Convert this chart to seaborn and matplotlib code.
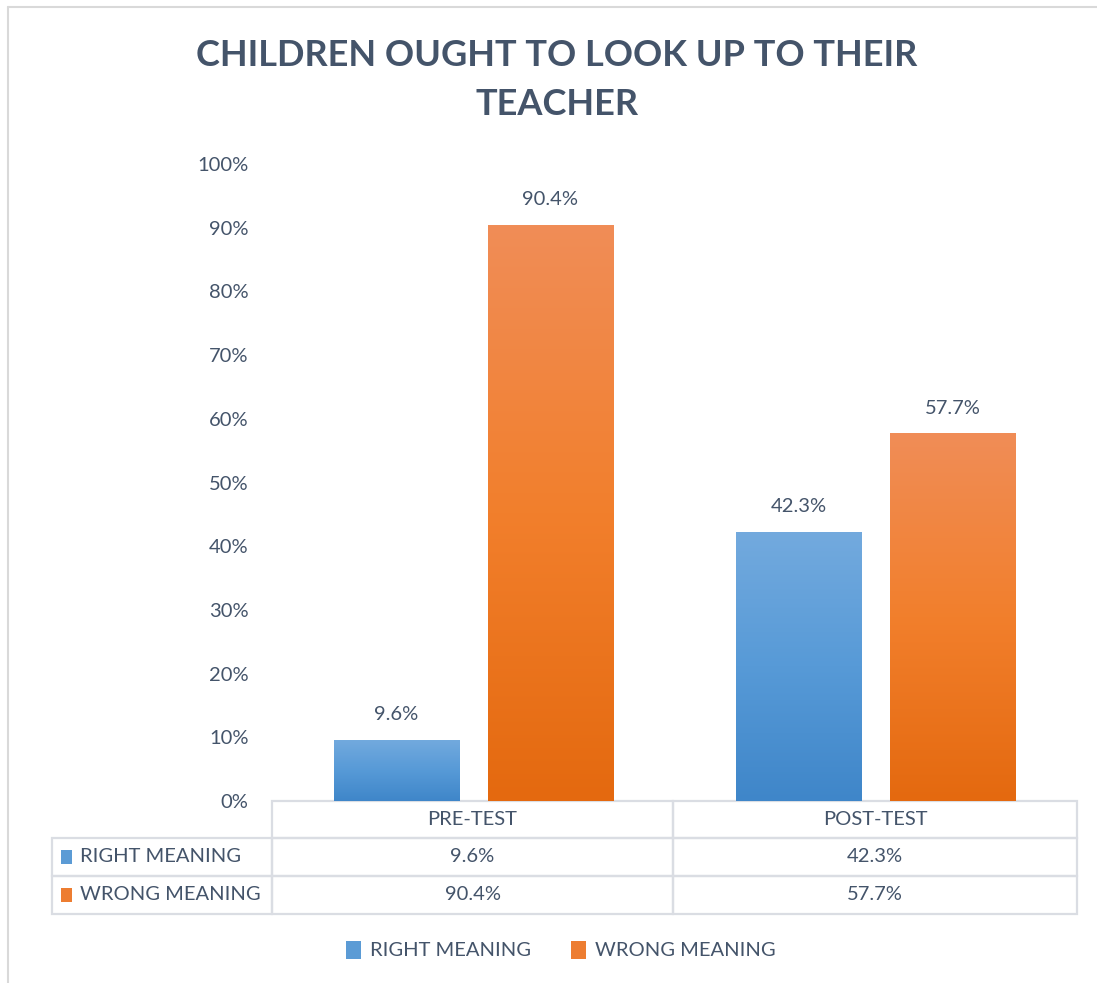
import numpy as np
import pandas as pd
import matplotlib
matplotlib.use("Agg")
import matplotlib.pyplot as plt
import seaborn as sns
from matplotlib.table import Table
from matplotlib.patches import Patch, Rectangle
from matplotlib.lines import Line2D
from matplotlib.colors import LinearSegmentedColormap, to_hex
from matplotlib.ticker import PercentFormatter

# ---- data -------------------------------------------------------------
title = "CHILDREN OUGHT TO LOOK UP TO THEIR\nTEACHER"
tests = ["PRE-TEST", "POST-TEST"]
meanings = ["RIGHT MEANING", "WRONG MEANING"]
right_meaning = [9.6, 42.3]
wrong_meaning = [90.4, 57.7]
y_ticks = [0, 10, 20, 30, 40, 50, 60, 70, 80, 90, 100]

# ---- style ------------------------------------------------------------
TEXT = "#44546A"
RULE = "#DADDE3"
FS = 14.5
palette = {"RIGHT MEANING": "#5B9BD5", "WRONG MEANING": "#ED7D31"}
# (bottom, middle, top) colours of the vertical gradient in each bar
gradients = {
    "RIGHT MEANING": ("#3F86C9", "#579AD7", "#73AADE"),
    "WRONG MEANING": ("#E4690F", "#F27F2C", "#F08D57"),
}

df = pd.DataFrame({
    "test": tests * 2,
    "meaning": [meanings[0]] * len(tests) + [meanings[1]] * len(tests),
    "value": right_meaning + wrong_meaning,
})

sns.set_theme(style="white")
plt.rcParams["font.family"] = ["Lato", "DejaVu Sans"]

W, H = 1097, 983
fig = plt.figure(figsize=(W / 100, H / 100), dpi=100)
ax = fig.add_axes([272 / W, 1 - 801 / H, 805 / W, 637 / H])

sns.barplot(data=df, x="test", y="value", hue="meaning",
            order=tests, hue_order=meanings, palette=palette,
            saturation=1, width=0.765, gap=0.188, legend=False, ax=ax,
            errorbar=None)

# gradient fill clipped to each bar
col_to_meaning = {to_hex(c): m for m, c in palette.items()}
grad = np.linspace(0, 1, 256).reshape(-1, 1)
for bar in list(ax.patches):
    meaning = col_to_meaning.get(to_hex(bar.get_facecolor()))
    if meaning is None:
        continue
    cmap = LinearSegmentedColormap.from_list(meaning, gradients[meaning])
    x0, y0 = bar.get_x(), bar.get_y()
    bw, bh = bar.get_width(), bar.get_height()
    im = ax.imshow(grad, cmap=cmap, extent=[x0, x0 + bw, y0, y0 + bh],
                   origin="lower", aspect="auto", zorder=bar.get_zorder(),
                   interpolation="bilinear")
    im.set_clip_path(bar)
    bar.set_facecolor("none")
    bar.set_edgecolor("none")

ax.set_xlim(-0.5, len(tests) - 0.5)
ax.set_ylim(0, 100)

# value labels above bars
for cont in ax.containers:
    ax.bar_label(cont, fmt="%.1f%%", padding=12, fontsize=FS, color=TEXT)

# axes cosmetics
sns.despine(ax=ax, left=True, bottom=True)
ax.set_yticks(y_ticks)
ax.yaxis.set_major_formatter(PercentFormatter(100, decimals=0))
ax.tick_params(axis="y", length=0, pad=17, labelsize=FS, labelcolor=TEXT)
ax.set_xticks([])
ax.set_xlabel("")
ax.set_ylabel("")
ax.grid(False)

# ---- data table beneath the plot ---------------------------------------
label_w, col_ws = 220, [401, 404]
row_hs = [37, 38, 38]
total_w, total_h = label_w + sum(col_ws), sum(row_hs)
tbl = Table(ax, bbox=[-label_w / 805, -total_h / 637, total_w / 805, total_h / 637])
series = [right_meaning, wrong_meaning]

for j, t in enumerate(tests):
    tbl.add_cell(0, j + 1, width=col_ws[j], height=row_hs[0], text=t, loc="center")
for i, m in enumerate(meanings):
    c = tbl.add_cell(i + 1, 0, width=label_w, height=row_hs[i + 1], text=m, loc="left")
    c.PAD = 28 / label_w
    for j in range(len(tests)):
        tbl.add_cell(i + 1, j + 1, width=col_ws[j], height=row_hs[i + 1],
                     text=f"{series[i][j]:.1f}%", loc="center")

tbl.auto_set_font_size(False)
tbl.set_fontsize(FS)
for cell in tbl.get_celld().values():
    cell.set_edgecolor(RULE)
    cell.set_linewidth(1.6)
    cell.set_facecolor("none")
    cell.get_text().set_color(TEXT)
    cell.get_text().set_fontfamily(["Lato", "DejaVu Sans"])
ax.add_table(tbl)

# legend keys inside the table row labels
for i, m in enumerate(meanings):
    yc = 801 + row_hs[0] + sum(row_hs[1:i + 1]) + row_hs[i + 1] / 2
    fig.add_artist(Rectangle((61 / W, 1 - (yc + 7) / H), 11 / W, 14 / H,
                             transform=fig.transFigure,
                             facecolor=palette[m], edgecolor="none"))

# ---- legend -------------------------------------------------------------
handles = [Patch(facecolor=palette[m], edgecolor="none") for m in meanings]
fig.legend(handles, meanings, loc="center", bbox_to_anchor=(561 / W, 1 - 950 / H),
           ncol=2, frameon=False, fontsize=FS, labelcolor=TEXT,
           handlelength=0.75, handleheight=1.0, handletextpad=0.45,
           columnspacing=2.0)

# ---- title --------------------------------------------------------------
fig.text(557 / W, 1 - 80 / H, title, ha="center", va="center",
         fontsize=26, fontweight="bold", color=TEXT, linespacing=1.6)

# chart frame
fig.add_artist(Line2D([8 / W, 8 / W], [0, 1 - 7 / H], transform=fig.transFigure,
                      color="#D9D9D9", lw=1.5))
fig.add_artist(Line2D([8 / W, 1], [1 - 7 / H, 1 - 7 / H], transform=fig.transFigure,
                      color="#D9D9D9", lw=1.5))

fig.savefig("out.png", dpi=100)
